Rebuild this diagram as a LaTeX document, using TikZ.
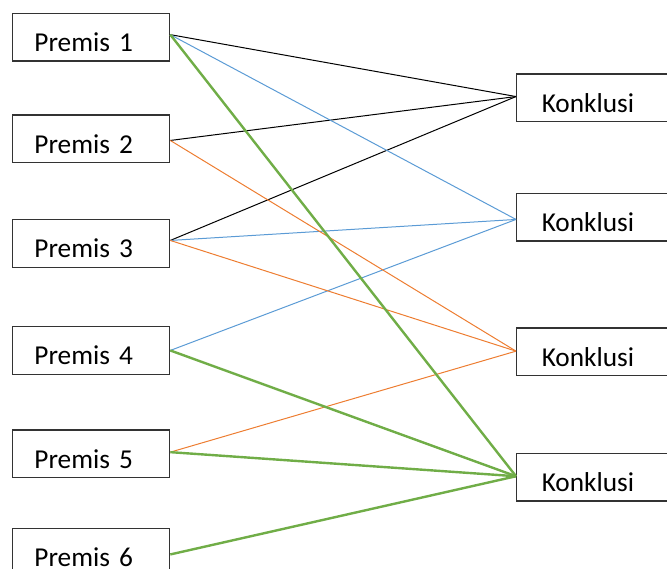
\documentclass[tikz,border=0pt]{standalone}
\usepackage{fontspec}
\setmainfont{Carlito}
\definecolor{lnblue}{HTML}{5B9BD5}
\definecolor{lnorange}{HTML}{ED7D31}
\definecolor{lngreen}{HTML}{70AD47}
\begin{document}
\begin{tikzpicture}[x=1pt,y=-1pt,
  box/.style={draw=black!80, line width=1.3pt, anchor=north west,
    minimum height=47.6pt, inner ysep=2pt, align=left,
    text height=29pt, text depth=0pt, font=\fontsize{27.3}{33}\selectfont},
  premis/.style={box, minimum width=157pt, inner xsep=21.8pt, text width=113.4pt},
  konk/.style={box, minimum width=164pt, inner xsep=25.1pt, text width=113.8pt},
  thinblack/.style={draw=black, line width=1pt},
  thinblue/.style={draw=lnblue, line width=1pt},
  thinorange/.style={draw=lnorange, line width=1pt},
  thickgreen/.style={draw=lngreen, line width=2.4pt}]
\useasboundingbox (0,0) rectangle (667,569);
\clip (0,0) rectangle (667,569);
\node[premis] (p1) at (12,12.7) {Premis 1};
\node[premis] (p2) at (12,114.3) {Premis 2};
\node[premis] (p3) at (12,219) {Premis 3};
\node[premis] (p4) at (12,326) {Premis 4};
\node[premis] (p5) at (12,429.3) {Premis 5};
\node[premis] (p6) at (12,528) {Premis 6};
\node[konk] (k1) at (516,73.3) {Konklusi};
\node[konk] (k2) at (516,192.7) {Konklusi};
\node[konk] (k3) at (516,327.3) {Konklusi};
\node[konk] (k4) at (516,452.7) {Konklusi};
\coordinate (p1e) at ([yshift=2.5pt]p1.east);
\coordinate (p2e) at ([yshift=-1.7pt]p2.east);
\coordinate (p3e) at ([yshift=3pt]p3.east);
\coordinate (p4e) at (p4.east);
\coordinate (p5e) at ([yshift=1.6pt]p5.east);
\coordinate (p6e) at ([yshift=-2pt]p6.east);
\coordinate (k1w) at ([yshift=1.2pt]k1.west);
\coordinate (k2w) at ([yshift=-2.3pt]k2.west);
\coordinate (k3w) at ([yshift=0.6pt]k3.west);
\coordinate (k4w) at ([yshift=0.9pt]k4.west);
\draw[thinblack] (p1e) -- (k1w);
\draw[thinblack] (p2e) -- (k1w);
\draw[thinblack] (p3e) -- (k1w);
\draw[thinblue] (p1e) -- (k2w);
\draw[thinblue] (p3e) -- (k2w);
\draw[thinblue] (p4e) -- (k2w);
\draw[thinorange] (p2e) -- (k3w);
\draw[thinorange] (p3e) -- (k3w);
\draw[thinorange] (p5e) -- (k3w);
\draw[thickgreen] (p1e) -- (k4w);
\draw[thickgreen] (p4e) -- (k4w);
\draw[thickgreen] (p5e) -- (k4w);
\draw[thickgreen] (p6e) -- (k4w);
\end{tikzpicture}
\end{document}
